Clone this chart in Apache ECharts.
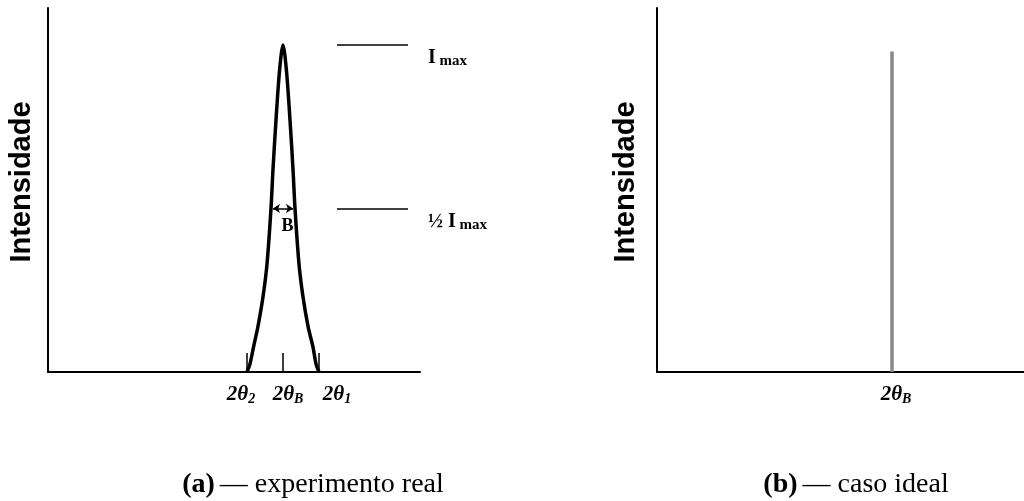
<!DOCTYPE html>
<html>
<head>
<meta charset="utf-8">
<script src="https://cdn.jsdelivr.net/npm/echarts@6/dist/echarts.min.js"></script>
<style>
  html, body { margin: 0; padding: 0; background: #fff; }
  #chart { width: 1024px; height: 501px; }
</style>
</head>
<body>
<div id="chart"></div>
<script>
// peak profile (2θ in arbitrary units, intensity with Imax = 100)
const peakX = [199, 202, 205.5, 210, 215, 219, 223, 225, 228, 231.5, 235, 238.5, 242, 245, 247, 251, 255, 260, 265, 268, 271];
const peakI = [0, 2.5, 7.6, 14, 23, 33, 50, 62, 77, 92, 100, 92, 77, 62, 50, 33, 23, 14, 7.6, 2.5, 0];

// ticks 2θ2, 2θB, 2θ1 and where their labels sit
const tickX = [199, 235, 271];
const tickLabelX = [193, 240, 289];
const tickSub = ['2', 'B', '1'];

// ideal case: one line at 2θB
const idealX = 235;
const idealI = 98;

// Imax and 1/2 Imax
const levelI = [100, 50];
const levelText = ['I', '½ I'];

// B = width at half maximum
const halfWidth = [225, 245];

const captionTag = ['(a)', '(b)'];
const captionText = ['— experimento real', '— caso ideal'];

const serif = 'Liberation Serif';
const sans = 'Liberation Sans';
const yMax = 111.3;

const chart = echarts.init(document.getElementById('chart'));

const tickRich = {
  t: { fontFamily: serif, fontStyle: 'italic', fontWeight: 'bold', fontSize: 21, lineHeight: 23, color: '#000' },
  s: { fontFamily: serif, fontStyle: 'italic', fontWeight: 'bold', fontSize: 14, lineHeight: 14, verticalAlign: 'bottom', color: '#000' }
};

const nameStyle = {
  fontFamily: sans, fontWeight: 'bold', fontSize: 29, color: '#000', padding: [0, 0, 0, 16]
};
const axisLine = { show: true, onZero: false, lineStyle: { color: '#000', width: 2 } };

const levelLines = levelI.map((v, i) => [
  {
    coord: [289, v],
    label: {
      show: true, position: 'end', distance: 20, padding: [26, 0, 0, 0],
      formatter: '{i|' + levelText[i] + '}{m| max}',
      rich: {
        i: { fontFamily: serif, fontWeight: 'bold', fontSize: 20, lineHeight: 22, color: '#000' },
        m: { fontFamily: serif, fontWeight: 'bold', fontSize: 15, lineHeight: 14, verticalAlign: 'bottom', color: '#000' }
      }
    }
  },
  { coord: [360, v] }
]);

const arrowLine = [
  {
    coord: [halfWidth[0], levelI[1]], symbol: 'arrow', symbolSize: [7, 7],
    label: {
      show: true, position: 'insideMiddleBottom', distance: 9, formatter: 'B', padding: [0, 0, 0, 9],
      fontFamily: serif, fontWeight: 'bold', fontSize: 18, color: '#000'
    }
  },
  { coord: [halfWidth[1], levelI[1]], symbol: 'arrow', symbolSize: [7, 7] }
];

const option = {
  animation: false,
  title: captionTag.map((t, i) => ({
    text: '{b|' + t + '} {r|' + captionText[i] + '}',
    left: i == 0 ? 308 : 851,
    top: 466,
    textAlign: 'center',
    textStyle: {
      fontWeight: 'normal',
      rich: {
        b: { fontFamily: serif, fontWeight: 'bold', fontSize: 28, color: '#000' },
        r: { fontFamily: serif, fontWeight: 'normal', fontSize: 28, color: '#000' }
      }
    }
  })),
  grid: [
    { left: 48, top: 8, width: 372, height: 364 },
    { left: 657, top: 8, width: 367, height: 364 }
  ],
  xAxis: [
    {
      gridIndex: 0, type: 'value', min: 0, max: 372,
      axisLine: axisLine,
      axisTick: { show: true, inside: true, length: 19, customValues: tickX, lineStyle: { color: '#000', width: 1.5 } },
      axisLabel: {
        show: true, margin: 11, customValues: tickLabelX, rich: tickRich,
        showMinLabel: true, showMaxLabel: true, hideOverlap: false,
        formatter: function (value) {
          const i = tickLabelX.indexOf(value);
          return '{t|2θ}{s|' + tickSub[i] + '}';
        }
      },
      splitLine: { show: false }
    },
    {
      gridIndex: 1, type: 'value', min: 0, max: 367,
      axisLine: axisLine,
      axisTick: { show: false },
      axisLabel: {
        show: true, margin: 11, customValues: [idealX + 4], rich: tickRich,
        showMinLabel: true, showMaxLabel: true,
        formatter: function () {
          return '{t|2θ}{s|B}';
        }
      },
      splitLine: { show: false }
    }
  ],
  yAxis: [0, 1].map(g => ({
    gridIndex: g, type: 'value', min: 0, max: yMax,
    axisLine: axisLine,
    axisTick: { show: false },
    axisLabel: { show: false },
    splitLine: { show: false },
    name: 'Intensidade', nameLocation: 'middle', nameRotate: 90,
    nameGap: g == 0 ? 12 : 17,
    nameTextStyle: nameStyle
  })),
  series: [
    {
      name: 'experimento real', type: 'line', xAxisIndex: 0, yAxisIndex: 0,
      data: peakX.map((x, i) => [x, peakI[i]]),
      smooth: 0.3, symbol: 'none',
      lineStyle: { color: '#000', width: 3.5 },
      markLine: {
        silent: true, symbol: 'none',
        lineStyle: { color: '#000', width: 1.5, type: 'solid' },
        data: levelLines.concat([arrowLine])
      }
    },
    {
      name: 'caso ideal', type: 'line', xAxisIndex: 1, yAxisIndex: 1,
      data: [[idealX, 0], [idealX, idealI]],
      symbol: 'none',
      lineStyle: { color: '#888', width: 3.5 }
    }
  ]
};
chart.setOption(option);
</script>
</body>
</html>
